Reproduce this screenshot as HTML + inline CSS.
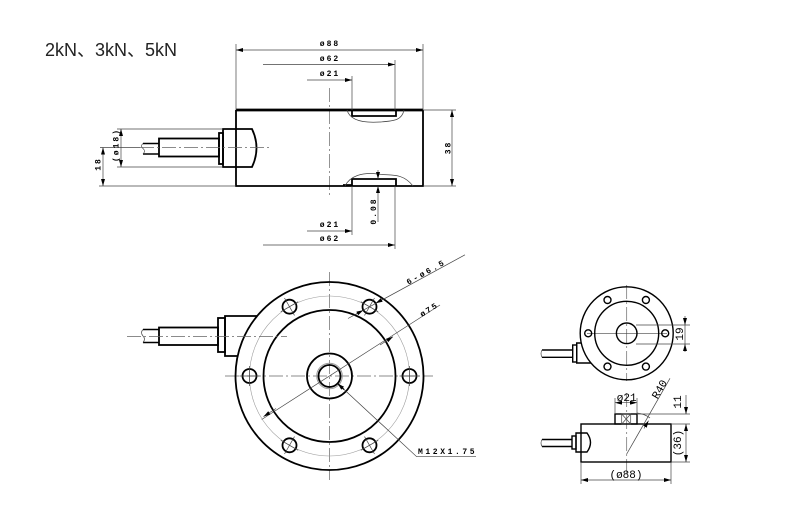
<!DOCTYPE html>
<html><head><meta charset="utf-8"><style>
html,body{margin:0;padding:0;background:#fff;}
svg{display:block;}
.o{fill:none;stroke:#000;stroke-width:1.8;}
.s{fill:none;stroke:#000;stroke-width:1.4;}
.t{fill:none;stroke:#444;stroke-width:0.7;}
.c{fill:none;stroke:#666;stroke-width:0.7;stroke-dasharray:14 3 2 3;}
.d{font-family:"Liberation Mono",monospace;font-size:8px;font-weight:bold;letter-spacing:2px;fill:#000;}
.e{font-family:"Liberation Mono",monospace;font-size:11px;fill:#000;}
.ti{font-family:"Liberation Sans","Noto Sans CJK SC",sans-serif;font-size:18px;fill:#222;}
</style></head><body>
<svg width="804" height="515" viewBox="0 0 804 515" xmlns="http://www.w3.org/2000/svg">
<defs>
<marker id="a" viewBox="0 0 7 4" refX="7" refY="2" markerWidth="7" markerHeight="4" markerUnits="userSpaceOnUse" orient="auto-start-reverse"><path d="M0,0 L7,2 L0,4 z" fill="#000"/></marker>
</defs>
<rect width="804" height="515" fill="#fff"/>

<text class="ti" x="45" y="56">2kN、3kN、5kN</text>

<!-- ===== SIDE VIEW (top) ===== -->
<line class="c" x1="329.5" y1="88" x2="329.5" y2="198"/>
<line x1="236" y1="110" x2="423" y2="110" stroke="#000" stroke-width="2.8"/>
<path class="o" d="M236 110 L236 186 L423 186 L423 110"/>
<path class="o" d="M352 110 L352 116 L396 116 L396 110"/>
<path class="t" d="M347 110 C350 121,365 123,380 122 C395 121,402 120,404 110"/>
<path class="o" d="M343 185 L352 185 L352 179 L396 179 L396 186"/>
<path class="t" d="M345 186 C350 176,362 172,378 174 C390 176,402 172,413 186"/>
<path class="o" d="M223 129 L252 129 Q261 148 252 167 L223 167 Z" fill="#fff"/>
<rect class="o" x="219" y="133" width="4" height="31" fill="#fff"/>
<rect class="o" x="159" y="138.5" width="60" height="18"/>
<path class="s" d="M159 143.5 L143 143.5 M159 154 L143 154"/>
<path class="t" d="M143 143.5 q-3 2.5 0 5 q3 2.5 0 5.5"/>
<line class="t" x1="100" y1="147.5" x2="140" y2="147.5"/>
<line class="c" x1="140" y1="147.5" x2="272" y2="147.5"/>

<line class="t" x1="236" y1="44" x2="236" y2="110"/>
<line class="t" x1="423" y1="44" x2="423" y2="110"/>
<line class="t" x1="236" y1="50" x2="423" y2="50" marker-start="url(#a)" marker-end="url(#a)"/>
<text class="d" x="330" y="46" text-anchor="middle">ø88</text>
<line class="t" x1="395" y1="60" x2="395" y2="110"/>
<line class="t" x1="263" y1="64.5" x2="395" y2="64.5" marker-end="url(#a)"/>
<text class="d" x="330" y="61" text-anchor="middle">ø62</text>
<line class="t" x1="352" y1="76" x2="352" y2="110"/>
<line class="t" x1="307" y1="80" x2="352" y2="80" marker-end="url(#a)"/>
<text class="d" x="330" y="76" text-anchor="middle">ø21</text>
<line class="t" x1="352" y1="186" x2="352" y2="235"/>
<line class="t" x1="307" y1="231" x2="352" y2="231" marker-end="url(#a)"/>
<text class="d" x="330" y="227" text-anchor="middle">ø21</text>
<line class="t" x1="395" y1="186" x2="395" y2="249"/>
<line class="t" x1="263" y1="245" x2="395" y2="245" marker-end="url(#a)"/>
<text class="d" x="330" y="241" text-anchor="middle">ø62</text>
<line class="t" x1="378" y1="170" x2="378" y2="179" marker-end="url(#a)"/>
<line class="t" x1="378" y1="222" x2="378" y2="186" marker-end="url(#a)"/>
<text class="d" transform="translate(373,211) rotate(-90)" x="0" y="3" text-anchor="middle">0.08</text>
<line class="t" x1="423" y1="110" x2="456" y2="110"/>
<line class="t" x1="423" y1="186" x2="456" y2="186"/>
<line class="t" x1="452" y1="110" x2="452" y2="186" marker-start="url(#a)" marker-end="url(#a)"/>
<text class="d" transform="translate(447.5,147.5) rotate(-90)" x="0" y="3" text-anchor="middle">38</text>
<line class="t" x1="99" y1="186" x2="236" y2="186"/>
<line class="t" x1="103" y1="147.5" x2="103" y2="186" marker-start="url(#a)" marker-end="url(#a)"/>
<text class="d" transform="translate(97.5,164) rotate(-90)" x="0" y="3" text-anchor="middle">18</text>
<line class="t" x1="117" y1="129" x2="223" y2="129"/>
<line class="t" x1="117" y1="167" x2="223" y2="167"/>
<line class="t" x1="121" y1="129" x2="121" y2="167" marker-start="url(#a)" marker-end="url(#a)"/>
<text class="d" transform="translate(115.5,145) rotate(-90)" x="0" y="3" text-anchor="middle">(ø18)</text>

<!-- ===== TOP VIEW (main) ===== -->
<line class="c" x1="225" y1="376" x2="433" y2="376"/>
<line class="c" x1="329.5" y1="272" x2="329.5" y2="480"/>
<circle cx="329.5" cy="376" r="80" fill="none" stroke="#999" stroke-width="0.6"/>
<circle class="o" cx="329.5" cy="376" r="94"/>
<circle class="o" cx="329.5" cy="376" r="66"/>
<circle class="o" cx="329.5" cy="376" r="22.5"/>
<circle cx="329.5" cy="376" r="12.8" fill="none" stroke="#999" stroke-width="1"/>
<circle class="o" cx="329.5" cy="376" r="11"/>
<g class="o">
<circle cx="409.5" cy="376" r="7"/>
<circle cx="369.5" cy="306.7" r="7"/>
<circle cx="289.5" cy="306.7" r="7"/>
<circle cx="249.5" cy="376" r="7"/>
<circle cx="289.5" cy="445.3" r="7"/>
<circle cx="369.5" cy="445.3" r="7"/>
</g>
<g class="t" stroke="#777">
<line x1="399.5" y1="376" x2="419.5" y2="376"/>
<line x1="364.5" y1="315.4" x2="374.5" y2="298.0"/>
<line x1="294.5" y1="315.4" x2="284.5" y2="298.0"/>
<line x1="259.5" y1="376" x2="239.5" y2="376"/>
<line x1="294.5" y1="436.6" x2="284.5" y2="454.0"/>
<line x1="364.5" y1="436.6" x2="374.5" y2="454.0"/>
<line x1="409.5" y1="366" x2="409.5" y2="386"/>
<line x1="360.8" y1="301.7" x2="378.2" y2="311.7"/>
<line x1="298.2" y1="301.7" x2="280.8" y2="311.7"/>
<line x1="249.5" y1="366" x2="249.5" y2="386"/>
<line x1="280.8" y1="440.3" x2="298.2" y2="450.3"/>
<line x1="378.2" y1="440.3" x2="360.8" y2="450.3"/>
</g>
<path class="o" d="M257 316 L225 316 L225 356 L238 356"/>
<rect class="o" x="218" y="318" width="7" height="34" fill="#fff"/>
<rect class="o" x="159" y="327.5" width="59" height="17.5"/>
<path class="s" d="M159 329.5 L143 329.5 M159 342.5 L143 342.5"/>
<path class="t" d="M143 329.5 q-3 3 0 6.5 q3 3 0 6.5"/>
<line class="c" x1="127" y1="336.5" x2="287" y2="336.5"/>
<line class="t" x1="356" y1="314.2" x2="465" y2="254.8"/>
<line class="t" x1="348" y1="318.5" x2="363.4" y2="310.1" marker-end="url(#a)"/>
<line class="t" x1="384" y1="298.7" x2="375.6" y2="303.3" marker-end="url(#a)"/>
<text class="d" style="letter-spacing:2.5px" transform="translate(426,271.5) rotate(-29)" x="0" y="3" text-anchor="middle">6-ø6.5</text>
<line class="t" x1="261.7" y1="419.5" x2="440" y2="305" />
<line class="t" x1="380" y1="345" x2="393" y2="336.7" marker-end="url(#a)"/>
<line class="t" x1="276" y1="408.5" x2="263.5" y2="416.6" marker-end="url(#a)"/>
<text class="d" transform="translate(429,309) rotate(-32.7)" x="0" y="3" text-anchor="middle">ø75</text>
<path class="t" d="M337.6 383.5 L416.7 456.7 L476 456.7"/>
<line x1="344" y1="389.5" x2="337.6" y2="383.5" stroke="#000" stroke-width="1.2" marker-end="url(#a)"/>
<text class="d" style="letter-spacing:2.6px" x="418" y="454">M12X1.75</text>

<!-- ===== SMALL TOP VIEW ===== -->
<line class="c" x1="626.7" y1="285" x2="626.7" y2="381"/>
<line class="t" x1="587" y1="333.3" x2="667" y2="333.3" stroke="#888"/>
<circle class="s" cx="626.7" cy="333.3" r="46.5"/>
<circle class="s" cx="626.7" cy="333.3" r="32"/>
<circle class="s" cx="626.7" cy="333.3" r="10.3"/>
<g class="s">
<circle cx="665.2" cy="333.3" r="3.5"/>
<circle cx="645.9" cy="300" r="3.5"/>
<circle cx="607.5" cy="300" r="3.5"/>
<circle cx="588.2" cy="333.3" r="3.5"/>
<circle cx="607.5" cy="366.6" r="3.5"/>
<circle cx="645.9" cy="366.6" r="3.5"/>
</g>
<path class="s" d="M581.2 343 L576.7 343 L576.7 363 L590.9 363"/>
<rect class="s" x="572.7" y="345" width="4" height="17" fill="#fff"/>
<path class="s" d="M572.7 350 L542 350 M572.7 357.3 L542 357.3"/>
<path class="t" d="M542 350 q-2 3.5 0 7.3"/>
<line class="t" x1="636" y1="325" x2="690" y2="325"/>
<line class="t" x1="636" y1="344" x2="690" y2="344"/>
<line class="t" x1="685" y1="316" x2="685" y2="325" marker-end="url(#a)"/>
<line class="t" x1="685" y1="352" x2="685" y2="344" marker-end="url(#a)"/>
<line class="t" x1="685" y1="325" x2="685" y2="344"/>
<text class="e" transform="translate(679,334) rotate(-90)" x="0" y="4" text-anchor="middle">19</text>

<!-- ===== SMALL SIDE VIEW ===== -->
<line class="c" x1="626.7" y1="393" x2="626.7" y2="476"/>
<rect class="s" x="581" y="424" width="90" height="38"/>
<rect class="s" x="615" y="414" width="22" height="10" fill="#fff"/>
<rect class="t" x="621.7" y="414" width="9" height="10"/>
<path class="t" d="M621.7 414 L630.7 424 M630.7 414 L621.7 424"/>
<path class="s" d="M576 433 L587 433 Q594 442.5 587 452 L576 452 Z" fill="#fff"/>
<rect class="s" x="572" y="436" width="4" height="13" fill="#fff"/>
<path class="s" d="M572 439.5 L542 439.5 M572 446.5 L542 446.5"/>
<path class="t" d="M542 439.5 q-2 3.5 0 7"/>
<line class="t" x1="626.7" y1="454" x2="670" y2="378.3"/>
<line class="t" x1="644" y1="428.5" x2="648.5" y2="420.7" marker-end="url(#a)"/>
<path class="t" d="M637 413 Q645 414 650 418"/>
<text class="e" transform="translate(659,389) rotate(-60)" x="0" y="4" text-anchor="middle">R40</text>
<line class="t" x1="615" y1="398" x2="615" y2="414"/>
<line class="t" x1="637" y1="398" x2="637" y2="414"/>
<line class="t" x1="615" y1="402.7" x2="637" y2="402.7" marker-start="url(#a)" marker-end="url(#a)"/>
<text class="e" x="626.7" y="401" text-anchor="middle">ø21</text>
<line class="t" x1="637" y1="414" x2="690" y2="414"/>
<line class="t" x1="671" y1="424" x2="690" y2="424"/>
<line class="t" x1="671" y1="462" x2="690" y2="462"/>
<line class="t" x1="686" y1="395" x2="686" y2="414" marker-end="url(#a)"/>
<line class="t" x1="686" y1="424" x2="686" y2="462" marker-start="url(#a)" marker-end="url(#a)"/>
<text class="e" transform="translate(677,402) rotate(-90)" x="0" y="4" text-anchor="middle">11</text>
<text class="e" transform="translate(677,443) rotate(-90)" x="0" y="4" text-anchor="middle">(36)</text>
<line class="t" x1="581" y1="462" x2="581" y2="484"/>
<line class="t" x1="671" y1="462" x2="671" y2="484"/>
<line class="t" x1="581" y1="480" x2="671" y2="480" marker-start="url(#a)" marker-end="url(#a)"/>
<text class="e" x="626" y="478" text-anchor="middle">(ø88)</text>
</svg>
</body></html>
